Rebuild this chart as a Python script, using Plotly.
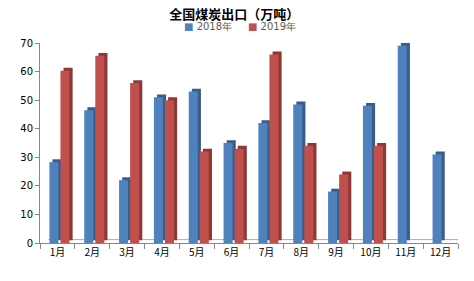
import plotly.graph_objects as go

months = ["1月", "2月", "3月", "4月", "5月", "6月", "7月", "8月", "9月", "10月", "11月", "12月"]
series_names = ["2018年", "2019年"]
exports_2018 = [28.3, 46.5, 22, 51, 53, 35, 42, 48.5, 18, 48, 69, 31]
exports_2019 = [60.3, 65.5, 56, 50, 32, 33, 66, 34, 24, 34, None, None]

blue, blue_dark = "#4F81BD", "#385D8A"
red, red_dark = "#C0504D", "#8C3836"
W = 0.26
DX = 0.09
DY = 1.0

fig = go.Figure()
# side/top faces (depth), drawn behind
for vals, col, off in [(exports_2018, blue_dark, -0.23), (exports_2019, red_dark, 0.087)]:
    fig.add_trace(go.Bar(
        x=months, y=vals, base=DY, width=W, offset=off + DX,
        marker=dict(color=col, line=dict(width=0)), showlegend=False, hoverinfo="skip"))
# front faces
for vals, col, off, name in [(exports_2018, blue, -0.23, series_names[0]),
                             (exports_2019, red, 0.087, series_names[1])]:
    fig.add_trace(go.Bar(
        x=months, y=vals, width=W, offset=off, name=name, showlegend=False,
        marker=dict(color=col, line=dict(width=0))))

fig.update_layout(
    width=474, height=281,
    barmode="overlay",
    paper_bgcolor="white", plot_bgcolor="white",
    margin=dict(l=40, r=16, t=43, b=38),
    font=dict(family="DejaVu Sans", size=10, color="#000000"),
    title=dict(text="<b>全国煤炭出口（万吨）</b>", x=0.494, xanchor="center",
               y=1 - 14 / 281, yanchor="middle",
               font=dict(family="Noto Sans CJK SC", size=13, color="#000000")),
    showlegend=False,
)
sp = "&nbsp;"
legend_text = (f"<span style='color:{blue}'>■</span>{sp}{series_names[0]}"
               f"{sp * 5}<span style='color:{red}'>■</span>{sp}{series_names[1]}")
fig.add_annotation(text=legend_text, xref="paper", yref="paper",
                   x=(240 - 40) / 418, y=1 + (43 - 27) / 200, xanchor="center", yanchor="middle",
                   showarrow=False, font=dict(family="DejaVu Sans", size=10, color="#595959"))

fig.update_yaxes(range=[0, 70], dtick=10, showgrid=False, zeroline=False,
                 showline=True, linecolor="#868686", linewidth=1,
                 ticks="outside", ticklen=4, tickcolor="#868686",
                 tickfont=dict(family="DejaVu Sans", size=10, color="#000000"))
fig.update_xaxes(showgrid=False, showline=True, linecolor="#868686", linewidth=1,
                 ticks="outside", ticklen=5, tickcolor="#868686", tickson="boundaries",
                 tickfont=dict(family="Noto Sans CJK SC", size=10, color="#000000"))

# floor edge of the 3D plot
fig.add_shape(type="line", xref="paper", yref="y", x0=0.02, x1=1.0, y0=1.2, y1=1.2,
              line=dict(color="#B0B0B0", width=1), layer="below")

fig.write_html("out.html")
